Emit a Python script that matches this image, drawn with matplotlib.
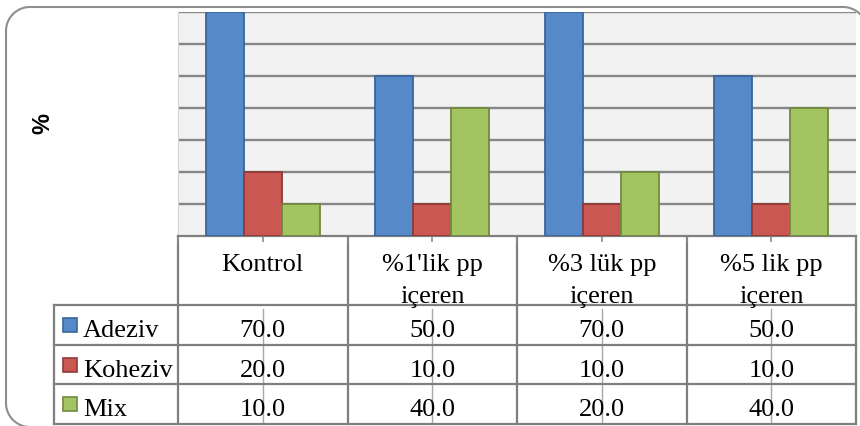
import matplotlib.pyplot as plt
import numpy as np
from matplotlib.patches import Rectangle

# values shown in the chart and in its data table
categories = ['Kontrol', "%1'lik pp\niçeren", '%3 lük pp\niçeren', '%5 lik pp\niçeren']
series = ['Adeziv', 'Koheziv', 'Mix']
adeziv = [70.0, 50.0, 70.0, 50.0]
koheziv = [20.0, 10.0, 10.0, 10.0]
mix = [10.0, 40.0, 20.0, 40.0]

fills = ['#5589C7', '#CB5753', '#A4C462']
edges = ['#3B659C', '#8E3A37', '#72893F']
line_gray = '#7F7F7F'
serif = ['Liberation Serif', 'DejaVu Serif']

W, H = 860, 427
fig = plt.figure(figsize=(W / 100, H / 100), dpi=100)

# full-figure axes in pixel units for the frame and the table
px = fig.add_axes([0, 0, 1, 1])
px.set_xlim(0, W)
px.set_ylim(H, 0)
px.axis('off')

plot_l, plot_r, plot_t, plot_b = 178, 856, 13, 237
ax = fig.add_axes([plot_l / W, 1 - plot_b / H, (plot_r - plot_l) / W, (plot_b - plot_t) / H])
ax.set_facecolor('#F2F2F2')

x = np.arange(len(categories))
w = 0.224
for k, vals in enumerate([adeziv, koheziv, mix]):
    ax.bar(x + (k - 1) * w, vals, w, color=fills[k], edgecolor=edges[k],
           linewidth=1.3, zorder=3)

ax.set_xlim(-0.5, len(categories) - 0.5)
ax.set_ylim(0, 70)
ax.set_yticks(range(10, 71, 10))
ax.yaxis.grid(True, color='#878787', linewidth=1.7)
ax.set_axisbelow(True)
ax.tick_params(axis='y', length=0, labelleft=False)
ax.set_xticks(np.arange(-0.5, len(categories), 0.5))
ax.tick_params(axis='x', length=4.5, width=1.2, color='#8C8C8C', labelbottom=False)
for s in ['top', 'right']:
    ax.spines[s].set_visible(False)
ax.spines['left'].set_color('#D4D4D4')
ax.spines['bottom'].set_color(line_gray)
ax.spines['bottom'].set_linewidth(1.6)

# y axis title
px.text(43, 124, '%', rotation=90, fontsize=17, fontweight='bold',
        family=['Liberation Sans', 'DejaVu Sans'], ha='center', va='center')

# data table under the plot
cat_w = (plot_r - plot_l) / len(categories)
col_edges = [plot_l + cat_w * i for i in range(len(categories) + 1)]
centers = [plot_l + cat_w * (i + 0.5) for i in range(len(categories))]
row_edges = [306, 346, 385, 425]
lab_l = 54

for c in centers:
    px.plot([c, c], [row_edges[0] + 4, row_edges[-1]], color='#A8A8A8', lw=1, zorder=1)

for y in row_edges:
    px.plot([lab_l, plot_r], [y, y], color=line_gray, lw=1.6, zorder=2)
px.plot([lab_l, lab_l], [row_edges[0], row_edges[-1]], color=line_gray, lw=1.6, zorder=2)
for xe in col_edges:
    px.plot([xe, xe], [plot_b, row_edges[-1]], color=line_gray, lw=1.6, zorder=2)

for c, name in zip(centers, categories):
    for j, part in enumerate(name.split('\n')):
        px.text(c, 271 + 32 * j, part, fontsize=19, family=serif,
                ha='center', va='baseline', zorder=3)

for r, (label, vals) in enumerate(zip(series, [adeziv, koheziv, mix])):
    top = row_edges[r]
    mid = (row_edges[r] + row_edges[r + 1]) / 2
    px.add_patch(Rectangle((63, mid - 7), 14, 14, facecolor=fills[r],
                           edgecolor=edges[r], lw=1.2, zorder=3))
    px.text(83, top + 31, label, fontsize=19, family=serif,
            ha='left', va='baseline', zorder=3)
    for c, v in zip(centers, vals):
        px.text(c, top + 31, f'{v:.1f}', fontsize=19, family=serif,
                ha='center', va='baseline', zorder=3)

# rounded chart border (right and bottom edges run off the canvas)
fl, fr, ft, fb, rad = 6, 867, 8, 428, 24


def arc(cx, cy, a0, a1):
    t = np.radians(np.linspace(a0, a1, 30))
    return cx + rad * np.cos(t), cy - rad * np.sin(t)


parts = [arc(fl + rad, fb - rad, 270, 180), arc(fl + rad, ft + rad, 180, 90),
         arc(fr - rad, ft + rad, 90, 0)]
bx = np.concatenate([p[0] for p in parts] + [np.array([fr])])
by = np.concatenate([p[1] for p in parts] + [np.array([fb + 10])])
px.plot(bx, by, color='#8E8E8E', lw=1.5, zorder=0, solid_capstyle='butt')

fig.savefig('out.png', dpi=100)
